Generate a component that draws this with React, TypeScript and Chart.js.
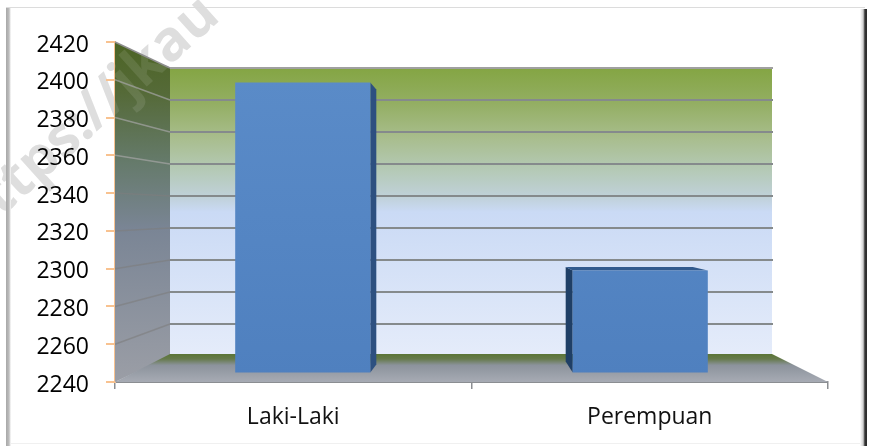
import React, { useEffect, useRef } from "react";
import { Chart, registerables } from "chart.js";

Chart.register(...registerables);

const categories = ["Laki-Laki", "Perempuan"];
const values = [2398.5, 2299];
const axisMin = 2240;
const axisMax = 2420;
const axisStep = 20;
const barBase = 2245;
const barShift = [9.5, -9.5];
const watermark = "https://jkau";

const FONT = "'Open Sans', sans-serif";

const poly = (ctx: CanvasRenderingContext2D, pts: number[][], fill: any) => {
  ctx.beginPath();
  pts.forEach((p, i) => (i ? ctx.lineTo(p[0], p[1]) : ctx.moveTo(p[0], p[1])));
  ctx.closePath();
  ctx.fillStyle = fill;
  ctx.fill();
};

const drawWatermark = (ctx: CanvasRenderingContext2D, color: string) => {
  ctx.save();
  ctx.translate(-26, 242);
  ctx.rotate((-42 * Math.PI) / 180);
  ctx.font = `bold 56px ${FONT}`;
  ctx.fillStyle = color;
  ctx.textBaseline = "alphabetic";
  ctx.fillText(watermark, 0, 0);
  ctx.restore();
};

const scene = {
  id: "scene",
  beforeDraw(chart: any) {
    drawWatermark(chart.ctx, "#dedede");
  },
  beforeDatasetsDraw(chart: any) {
    const { ctx, chartArea: a, scales } = chart;
    const depthX = 55;
    const backRight = a.right - 56;
    const backBottom = a.bottom - 26;
    const yScale = scales.y;
    const span = a.bottom - a.top;
    const backHeight = 288;
    const backY = (y: number) => backBottom - ((a.bottom - y) * backHeight) / span;
    const backTop = backY(a.top);
    const backLeft = a.left + depthX;

    ctx.save();
    // back wall
    const wall = ctx.createLinearGradient(0, backTop, 0, backBottom);
    wall.addColorStop(0, "#84a543");
    wall.addColorStop(0.12, "#93ae62");
    wall.addColorStop(0.24, "#a8bd8c");
    wall.addColorStop(0.36, "#b5cab8");
    wall.addColorStop(0.45, "#c0d1da");
    wall.addColorStop(0.5, "#cadaf5");
    wall.addColorStop(1, "#e5ecfa");
    ctx.fillStyle = wall;
    ctx.fillRect(backLeft, backTop, backRight - backLeft, backBottom - backTop);

    // side wall
    const sidePts = [[a.left, a.top], [backLeft, backTop], [backLeft, backBottom], [a.left, a.bottom]];
    const side = ctx.createLinearGradient(0, a.top, 0, a.bottom);
    side.addColorStop(0, "#4c6424");
    side.addColorStop(0.15, "#556a38");
    side.addColorStop(0.35, "#657a6a");
    side.addColorStop(0.55, "#7a8595");
    side.addColorStop(1, "#9b9ea6");
    poly(ctx, sidePts, side);

    // faint watermark showing through the side wall
    ctx.save();
    ctx.beginPath();
    sidePts.forEach((p, i) => (i ? ctx.lineTo(p[0], p[1]) : ctx.moveTo(p[0], p[1])));
    ctx.closePath();
    ctx.clip();
    drawWatermark(ctx, "rgba(255,255,255,0.1)");
    ctx.restore();

    // floor
    const floor = ctx.createLinearGradient(0, backBottom - 2, 0, a.bottom);
    floor.addColorStop(0, "#5b7536");
    floor.addColorStop(0.18, "#667a4c");
    floor.addColorStop(0.4, "#8c939c");
    floor.addColorStop(1, "#a7abb4");
    poly(ctx, [[backLeft, backBottom - 2], [backRight, backBottom - 2], [a.right, a.bottom], [a.left, a.bottom]], floor);

    // gridlines on both walls
    yScale.ticks.forEach((t: any) => {
      const y = yScale.getPixelForValue(t.value);
      if (t.value === axisMin) {
        return;
      }
      const by = backY(y);
      ctx.lineWidth = 1.5;
      const upper = t.value >= 2360;
      ctx.strokeStyle = t.value === axisMax
        ? "#8f8f8f"
        : upper
          ? "rgba(165,165,165,0.7)"
          : "rgba(125,125,125,0.6)";
      ctx.beginPath();
      ctx.moveTo(a.left, y);
      ctx.lineTo(backLeft, by);
      ctx.stroke();
      ctx.lineWidth = 2;
      ctx.strokeStyle = t.value === axisMax ? "#a0a0a0" : "#858a8c";
      ctx.beginPath();
      ctx.moveTo(backLeft, by);
      ctx.lineTo(backRight + 1, by);
      ctx.stroke();
    });
    ctx.restore();

    // bar placement and 3D faces
    const meta = chart.getDatasetMeta(0);
    meta.data.forEach((bar: any, i: number) => {
      bar.x = scales.x.getPixelForValue(i) + barShift[i];
      const half = bar.width / 2;
      const l = bar.x - half;
      const r = bar.x + half;
      const top = bar.y;
      const bottom = bar.base;
      if (i === 0) {
        poly(ctx, [[r, top], [r + 6, top + 7], [r + 6, bottom - 8], [r, bottom]], "#2d5080");
      } else {
        poly(ctx, [[l, top], [l - 7, top - 3.5], [l - 7, bottom - 11], [l, bottom]], "#1f3f66");
        poly(ctx, [[l, top], [l - 7, top - 3.5], [r - 15, top - 3.5], [r, top]], "#315a8e");
      }
    });
  },
  afterDraw(chart: any) {
    const { ctx, width, height } = chart;
    ctx.save();
    // picture frame
    ctx.fillStyle = "#dcdcdc";
    ctx.fillRect(6, 7, width - 10, 1);
    ctx.fillStyle = "#f0f0f0";
    ctx.fillRect(8, 443, width - 12, 1);
    const left = ctx.createLinearGradient(6, 0, 11, 0);
    left.addColorStop(0, "#a8a8a8");
    left.addColorStop(0.6, "#bdbdbd");
    left.addColorStop(1, "#ffffff");
    ctx.fillStyle = left;
    ctx.fillRect(6, 8, 5, height - 8);
    const right = ctx.createLinearGradient(860, 0, 867, 0);
    right.addColorStop(0, "#ffffff");
    right.addColorStop(0.45, "#cfcfcf");
    right.addColorStop(0.7, "#333333");
    right.addColorStop(1, "#2a2a2a");
    ctx.fillStyle = right;
    ctx.fillRect(860, 9, 7, height - 9);
    ctx.restore();
  },
};

export default function App() {
  const ref = useRef<HTMLCanvasElement>(null);

  useEffect(() => {
    document.body.style.margin = "0";
    const ctx = ref.current!.getContext("2d")!;
    const front = ctx.createLinearGradient(0, 80, 0, 375);
    front.addColorStop(0, "#5a8bc8");
    front.addColorStop(1, "#4f80bf");

    const chart = new Chart(ref.current!, {
      type: "bar",
      data: {
        labels: categories,
        datasets: [
          {
            data: values,
            base: barBase,
            backgroundColor: front,
            barPercentage: 0.379,
            categoryPercentage: 1,
          },
        ],
      },
      options: {
        animation: false,
        responsive: false,
        layout: { padding: { top: 42, right: 41, left: 0, bottom: 0 } },
        plugins: { legend: { display: false }, tooltip: { enabled: false } },
        scales: {
          x: {
            afterFit: (s: any) => {
              s.height = 64;
            },
            grid: {
              drawOnChartArea: false,
              offset: true,
              color: "#8b8e92",
              tickLength: 7,
              lineWidth: 1.5,
            },
            border: { color: "#8b8e92", width: 2 },
            ticks: {
              color: "#111111",
              padding: 15,
              maxRotation: 0,
              font: { family: FONT, size: 23 },
            },
          },
          y: {
            min: axisMin,
            max: axisMax,
            afterFit: (s: any) => {
              s.width = 115;
            },
            grid: {
              drawOnChartArea: false,
              color: "#f8c290",
              tickLength: 9,
              lineWidth: 2,
            },
            border: { color: "#f8c290", width: 2 },
            ticks: {
              stepSize: axisStep,
              color: "#000000",
              padding: 17,
              labelOffset: 3,
              callback: (v: any) => String(v),
              font: { family: FONT, size: 23 },
            },
          },
        },
      },
      plugins: [scene],
    } as any);
    return () => chart.destroy();
  }, []);

  return (
    <div style={{ width: 869, height: 446, overflow: "hidden" }}>
      <canvas ref={ref} width={869} height={446} style={{ display: "block" }} />
    </div>
  );
}
